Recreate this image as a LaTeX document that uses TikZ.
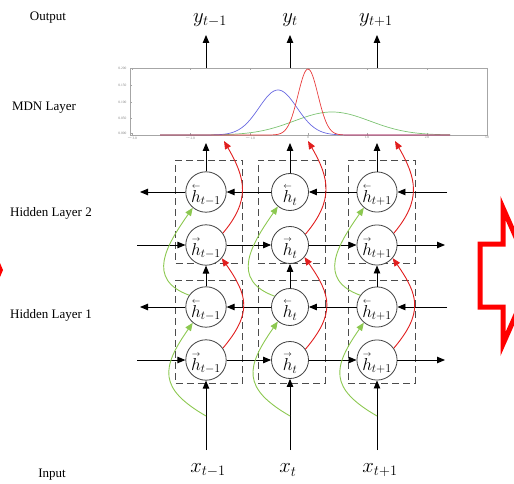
\documentclass[tikz,border=0pt]{standalone}
\usepackage{amsmath}
\usepackage{fontspec}
\setmainfont{Liberation Serif}
\usetikzlibrary{arrows.meta}
\definecolor{gblue}{RGB}{105,105,225}
\definecolor{gred}{RGB}{232,60,60}
\definecolor{ggreen}{RGB}{125,195,115}
\definecolor{arrgreen}{RGB}{140,200,80}
\definecolor{arrred}{RGB}{225,30,30}
\newcommand{\lv}[1]{\overset{\raisebox{-1.1ex}{$\scriptscriptstyle\leftarrow$}}{#1}}
\newcommand{\rv}[1]{\overset{\raisebox{-1.1ex}{$\scriptscriptstyle\rightarrow$}}{#1}}
\begin{document}
\begin{tikzpicture}[x=1pt,y=1pt,
  cell/.style={circle,draw=black!75,line width=0.8pt,minimum size=37pt,inner sep=0pt,fill=white,font=\fontsize{16.5}{16.5}\selectfont},
  cellbox/.style={draw=black!70,dash pattern=on 7pt off 4pt,line width=0.8pt,minimum width=67pt,minimum height=103pt,inner sep=0pt},
  conn/.style={draw=black,line width=0.9pt,-{Triangle[length=8pt,width=6.5pt]}},
  redconn/.style={draw=arrred,line width=0.9pt,-{Triangle[length=8pt,width=6.5pt]}},
  greenconn/.style={draw=arrgreen,line width=0.9pt,-{Triangle[length=8pt,width=6.5pt]}},
  lbl/.style={font=\fontsize{13}{13}\selectfont},
  seq/.style={font=\fontsize{21}{21}\selectfont},
  tick/.style={font=\fontsize{3.5}{4}\selectfont,text=black!50,inner sep=0.5pt},
  gauss/.style={line width=0.7pt},
]
\useasboundingbox (0,0) rectangle (514,-484);

% side labels
\node[lbl] (lout) at (48,-18) {Output};
\node[lbl] (lmdn) at (44,-108) {MDN Layer};
\node[lbl] (lh2) at (51,-213) {Hidden Layer 2};
\node[lbl] (lh1) at (51,-315) {Hidden Layer 1};
\node[lbl] (lin) at (52,-475) {Input};

% output / input labels
\node[seq] (y1) at (210,-20) {$y_{t-1}$};
\node[seq] (y2) at (290,-20) {$y_{t}$};
\node[seq] (y3) at (376,-20) {$y_{t+1}$};
\node[seq] (x1) at (208,-470) {$x_{t-1}$};
\node[seq] (x2) at (288,-470) {$x_{t}$};
\node[seq] (x3) at (380,-470) {$x_{t+1}$};

% MDN plot
\draw[black!35,line width=0.6pt] (130,-68) rectangle (487,-135);
\foreach \t/\l in {132/$-$3.0,190/$-$2.0,250/$-$1.0,308/0,367/1.0,427/2.0,487/3.0}{
  \draw[black!35,line width=0.4pt] (\t,-135) -- (\t,-133);
  \draw[black!35,line width=0.4pt] (\t,-68) -- (\t,-70);
  \node[tick,anchor=north] at (\t,-135.5) {\l};
}
\foreach \v/\l in {68/0.200,85/0.150,102/0.100,118/0.050,133/0.000}{
  \draw[black!35,line width=0.4pt] (130,-\v) -- (132,-\v);
  \node[tick,anchor=east] at (127,-\v) {\l};
}
\draw[gauss,ggreen] plot[domain=160:450,samples=220,smooth] (\x,{-135+23*exp(-0.5*((\x-332)/38)^2)});
\draw[gauss,gblue] plot[domain=160:450,samples=220,smooth] (\x,{-135+45*exp(-0.5*((\x-278)/19)^2)});
\draw[gauss,gred] plot[domain=160:450,samples=260,smooth] (\x,{-135+66*exp(-0.5*((\x-308)/10)^2)});

% cells
\foreach \i/\cx/\s/\bx in {1/206/{t-1}/209,2/290/{t}/291.5,3/377/{t+1}/381.5}{
  \node[cellbox] (db2\i) at (\bx,-211.5) {};
  \node[cellbox] (db1\i) at (\bx,-331.5) {};
  \node[cell] (b2\i) at (\cx,-192) {$\lv{h}_{\s}$};
  \node[cell] (f2\i) at (\cx,-245) {$\rv{h}_{\s}$};
  \node[cell] (b1\i) at (\cx,-307) {$\lv{h}_{\s}$};
  \node[cell] (f1\i) at (\cx,-360) {$\rv{h}_{\s}$};
  \coordinate (in\i) at (\cx,-450);
  \coordinate (gs\i) at (\cx,-416);
  \coordinate (mb\i) at (\cx,-143);
  \coordinate (mr\i) at (\cx+18,-141);
  \coordinate (ob\i) at (\cx,-68);
  \coordinate (ot\i) at (\cx,-35);
}

% free ends of horizontal connectors
\coordinate (lb2) at (140,-192); \coordinate (rb2) at (447,-192);
\coordinate (lf2) at (137,-245); \coordinate (rf2) at (445,-245);
\coordinate (lb1) at (140,-307); \coordinate (rb1) at (447,-307);
\coordinate (lf1) at (137,-360); \coordinate (rf1) at (445,-360);

\foreach \L in {1,2}{
  \draw[conn] (rb\L) -- (b\L3);
  \draw[conn] (b\L3) -- (b\L2);
  \draw[conn] (b\L2) -- (b\L1);
  \draw[conn] (b\L1) -- (lb\L);
  \draw[conn] (lf\L) -- (f\L1);
  \draw[conn] (f\L1) -- (f\L2);
  \draw[conn] (f\L2) -- (f\L3);
  \draw[conn] (f\L3) -- (rf\L);
}

\foreach \i in {1,2,3}{
  \draw[conn] (in\i) -- (f1\i);
  \draw[conn] (b1\i) -- (f2\i);
  \draw[conn] (b2\i) -- (mb\i);
  \draw[conn] (ob\i) -- (ot\i);
  \draw[greenconn] (gs\i) to[out=150,in=-125,looseness=1.5] (b1\i.-130);
  \draw[greenconn] (b1\i.145) to[out=160,in=-125,looseness=1.35] (b2\i.-130);
  \draw[redconn] (f1\i.35) to[out=50,in=-55,looseness=1.3] (f2\i.-40);
  \draw[redconn] (f2\i.35) to[out=50,in=-60,looseness=1.2] (mr\i);
}

% red block arrows at the edges
\begin{scope}
  \clip (0,0) rectangle (514,-484);
  \draw[red,line width=5pt,line join=miter,miter limit=20] (480,-244) -- (503,-244) -- (503,-208) -- (533,-276) -- (503,-344) -- (503,-307) -- (480,-307) -- cycle;
  \fill[red] (0,-263) -- (3,-270) -- (0,-277) -- cycle;
\end{scope}
\end{tikzpicture}
\end{document}
